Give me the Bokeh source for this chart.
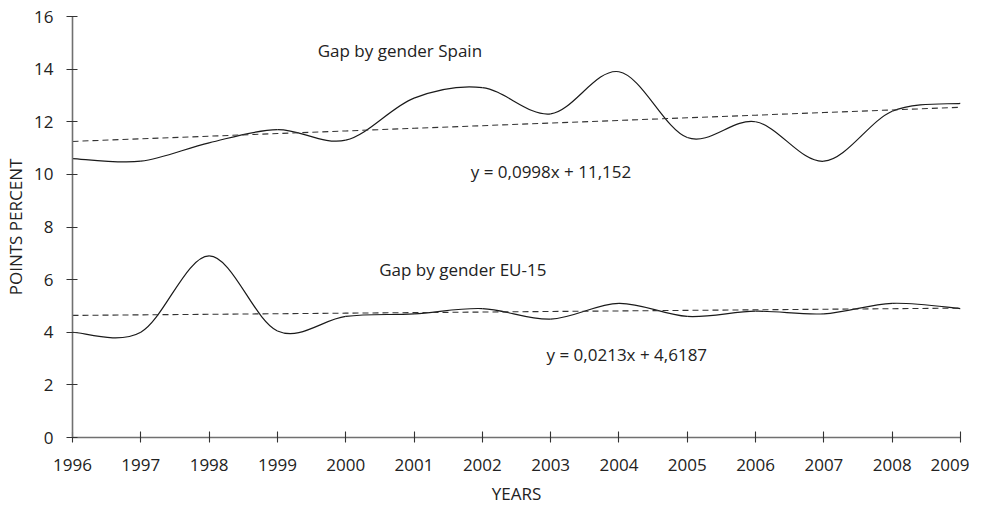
import numpy as np
from bokeh.plotting import figure
from bokeh.models import Range1d, FixedTicker, ColumnDataSource
from bokeh.core.properties import value
from bokeh.embed import file_html
from bokeh.resources import INLINE

years = [1996, 1997, 1998, 1999, 2000, 2001, 2002, 2003, 2004, 2005, 2006, 2007, 2008, 2009]
spain = [10.6, 10.5, 11.2, 11.7, 11.3, 12.9, 13.3, 12.3, 13.9, 11.4, 12.0, 10.5, 12.4, 12.7]
eu15 = [4.0, 4.0, 6.9, 4.05, 4.6, 4.7, 4.9, 4.5, 5.1, 4.6, 4.8, 4.7, 5.1, 4.9]
spain_trend = (0.0998, 11.152)
eu15_trend = (0.0213, 4.6187)
y_ticks = [0, 2, 4, 6, 8, 10, 12, 14, 16]

FONT = "Open Sans"
TXT = "#222222"


def smooth_source(xs, ys):
    x = np.asarray(xs, float)
    y = np.asarray(ys, float)
    xp = np.concatenate([[x[0]], x, [x[-1]]])
    yp = np.concatenate([[y[0]], y, [y[-1]]])
    n = len(x)
    p0x, p1x, p2x, p3x = xp[0:n - 1], xp[1:n], xp[2:n + 1], xp[3:n + 2]
    p0y, p1y, p2y, p3y = yp[0:n - 1], yp[1:n], yp[2:n + 1], yp[3:n + 2]
    return ColumnDataSource(dict(
        x0=p1x, y0=p1y, x1=p2x, y1=p2y,
        cx0=p1x + (p2x - p0x) / 6, cy0=p1y + (p2y - p0y) / 6,
        cx1=p2x - (p3x - p1x) / 6, cy1=p2y - (p3y - p1y) / 6,
    ))


p = figure(width=969, height=509, output_backend="svg", toolbar_location=None,
           x_range=Range1d(years[0], years[-1]), y_range=Range1d(0, 16),
           min_border_left=72, min_border_right=9, min_border_top=16, min_border_bottom=72)
p.outline_line_color = None
p.xgrid.visible = False
p.ygrid.visible = False
p.background_fill_color = "white"

for series in (spain, eu15):
    p.bezier(x0="x0", y0="y0", x1="x1", y1="y1", cx0="cx0", cy0="cy0", cx1="cx1", cy1="cy1",
             source=smooth_source(years, series), line_color="#1a1a1a", line_width=1.2)

idx = np.arange(1, len(years) + 1)
for slope, icpt in (spain_trend, eu15_trend):
    p.line(years, slope * idx + icpt, line_color="#333333", line_width=1.1, line_dash="6 4")

p.text(x=[1999.59], y=[14.7], text=["Gap by gender Spain"], text_font=value(FONT),
       text_font_size="17px", text_color=TXT, text_baseline="middle")
p.text(x=[2001.83], y=[10.1], text=["y = 0,0998x + 11,152"], text_font=value(FONT),
       text_font_size="17px", text_color=TXT, text_baseline="middle")
p.text(x=[2000.49], y=[6.4], text=["Gap by gender EU-15"], text_font=value(FONT),
       text_font_size="17px", text_color=TXT, text_baseline="middle")
p.text(x=[2002.94], y=[3.17], text=["y = 0,0213x + 4,6187"], text_font=value(FONT),
       text_font_size="17px", text_color=TXT, text_baseline="middle")

for ax in (p.xaxis[0], p.yaxis[0]):
    ax.axis_line_color = "#707070"
    ax.axis_line_width = 1.6
    ax.major_tick_line_color = "#333333"
    ax.major_tick_line_width = 1.1
    ax.minor_tick_line_color = None
    ax.major_label_text_font = FONT
    ax.major_label_text_font_size = "17px"
    ax.major_label_text_color = TXT
    ax.axis_label_text_font = FONT
    ax.axis_label_text_font_size = "17px"
    ax.axis_label_text_font_style = "normal"
    ax.axis_label_text_color = TXT

p.xaxis.ticker = FixedTicker(ticks=years)
p.xaxis.major_tick_in = 6
p.xaxis.major_tick_out = 5
p.xaxis.major_label_standoff = 16
p.xaxis.axis_label = "YEARS"
p.xaxis.axis_label_standoff = 8

p.yaxis.ticker = FixedTicker(ticks=y_ticks)
p.yaxis.major_tick_in = 5
p.yaxis.major_tick_out = 6
p.yaxis.major_label_standoff = 13
p.yaxis.axis_label = "POINTS PERCENT"
p.yaxis.axis_label_standoff = 4

open("out.html", "w").write(file_html(p, INLINE))
